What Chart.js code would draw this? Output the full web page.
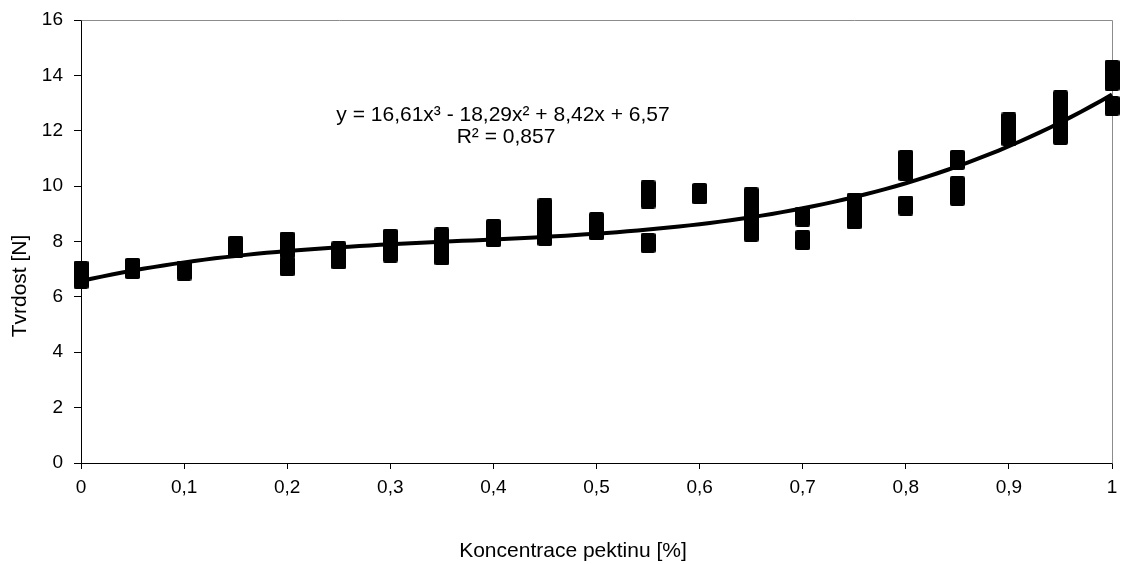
<!DOCTYPE html>
<html>
<head>
<meta charset="utf-8">
<script src="https://cdn.jsdelivr.net/npm/chart.js@4"></script>
<style>
  html, body { margin: 0; padding: 0; background: #fff; }
  canvas { display: block; }
</style>
</head>
<body>
<canvas id="c" width="1122" height="564"></canvas>
<script>
// Pectin concentration [%] for each group of measurements
const koncentrace = [0, 0.05, 0.1, 0.15, 0.2, 0.25, 0.3, 0.35, 0.4, 0.45, 0.5,
                     0.55, 0.6, 0.65, 0.7, 0.75, 0.8, 0.85, 0.9, 0.95, 1];

// Measured hardness [N], replicates per concentration
const tvrdost = [
  [6.65, 6.8, 6.95],
  [7.0, 7.05],
  [6.95],
  [7.75, 7.85],
  [7.1, 7.75, 8.0],
  [7.35, 7.65],
  [7.6, 7.9, 8.1],
  [7.5, 7.8, 8.15],
  [8.15, 8.45],
  [8.2, 8.6, 9.2],
  [8.4, 8.7],
  [7.95, 9.55, 9.85],
  [9.7, 9.75],
  [8.35, 8.8, 9.2, 9.6],
  [8.05, 8.9],
  [8.8, 9.1, 9.4],
  [9.3, 10.55, 10.95],
  [9.65, 10.0, 10.95],
  [11.8, 12.0, 12.3],
  [11.85, 12.3, 12.7, 13.1],
  [12.9, 13.8, 14.2]
];

// Cubic trend line coefficients: c0 + c1*x + c2*x^2 + c3*x^3
const trendCoef = [6.57, 8.42, -18.29, 16.61];
const r2 = 0.857;

// Axis tick labels
const xTickLabels = ['0', '0,1', '0,2', '0,3', '0,4', '0,5', '0,6', '0,7', '0,8', '0,9', '1'];
const yTickLabels = ['0', '2', '4', '6', '8', '10', '12', '14', '16'];

const xTitle = 'Koncentrace pektinu [%]';
const yTitle = 'Tvrdost [N]';

// ---- derived data ----
const points = [];
koncentrace.forEach((x, i) => tvrdost[i].forEach(y => points.push({ x, y })));

const trendX = [];
for (let i = 0; i <= 100; i++) trendX.push(i / 100);
const trendPoints = trendX.map(x => ({
  x,
  y: trendCoef.reduce((s, c, k) => s + c * Math.pow(x, k), 0)
}));

const fmt = v => Math.abs(v).toFixed(2).replace('.', ',');
const sign = v => (v < 0 ? ' - ' : ' + ');
const eqText = 'y = ' + fmt(trendCoef[3]) + 'x\u00B3' +
  sign(trendCoef[2]) + fmt(trendCoef[2]) + 'x\u00B2' +
  sign(trendCoef[1]) + fmt(trendCoef[1]) + 'x' +
  sign(trendCoef[0]) + fmt(trendCoef[0]);
const r2Text = 'R\u00B2 = ' + r2.toFixed(3).replace('.', ',');

// Marker: slightly rounded black rectangle
function markerImage() {
  const c = document.createElement('canvas');
  c.width = 15; c.height = 20;
  const g = c.getContext('2d');
  g.fillStyle = '#000';
  g.beginPath();
  if (g.roundRect) g.roundRect(0, 0, 15, 20, 2); else g.rect(0, 0, 15, 20);
  g.fill();
  return c;
}

const FONT = "'Liberation Sans', Arial, sans-serif";

// Gray frame on top/right + titles and equation text
const decorations = {
  id: 'decorations',
  beforeDatasetsDraw(chart) {
    const { ctx, chartArea: a } = chart;
    ctx.save();
    ctx.strokeStyle = '#8c8c8c';
    ctx.lineWidth = 1;
    ctx.beginPath();
    ctx.moveTo(Math.round(a.left) + 0.5, Math.round(a.top) + 0.5);
    ctx.lineTo(Math.round(a.right) + 0.5, Math.round(a.top) + 0.5);
    ctx.lineTo(Math.round(a.right) + 0.5, Math.round(a.bottom) + 0.5);
    ctx.stroke();
    ctx.restore();
  },
  afterDraw(chart) {
    const { ctx } = chart;
    ctx.save();
    ctx.fillStyle = '#000';
    ctx.textAlign = 'center';
    ctx.textBaseline = 'middle';
    ctx.font = '21px ' + FONT;
    ctx.fillText(xTitle, 573, 551);
    ctx.save();
    ctx.translate(20, 286);
    ctx.rotate(-Math.PI / 2);
    ctx.fillText(yTitle, 0, 0);
    ctx.restore();
    ctx.font = '21px ' + FONT;
    ctx.fillText(eqText, 503, 115);
    ctx.fillText(r2Text, 506, 137);
    ctx.restore();
  }
};

new Chart(document.getElementById('c'), {
  type: 'scatter',
  data: {
    datasets: [
      {
        type: 'line',
        data: trendPoints,
        borderColor: '#000',
        borderWidth: 4,
        pointRadius: 0,
        tension: 0,
        fill: false,
        clip: false,
        order: 0
      },
      {
        data: points,
        pointStyle: markerImage(),
        pointRadius: 8,
        backgroundColor: '#000',
        borderColor: '#000',
        clip: false,
        order: 1
      }
    ]
  },
  plugins: [decorations],
  options: {
    responsive: false,
    animation: false,
    layout: { padding: { top: 20, right: 10, left: 0, bottom: 0 } },
    plugins: { legend: { display: false }, tooltip: { enabled: false } },
    scales: {
      x: {
        type: 'linear',
        min: 0, max: 1,
        afterFit: s => { s.height = 101; s.paddingLeft = 0; s.paddingRight = 0; },
        afterBuildTicks: s => { s.ticks = xTickLabels.map((_, i) => ({ value: i / 10 })); },
        ticks: {
          callback: (v, i) => xTickLabels[i],
          color: '#000',
          font: { family: FONT, size: 19 },
          padding: 7,
          maxRotation: 0,
          autoSkip: false
        },
        grid: { drawOnChartArea: false, drawTicks: true, tickLength: 6, color: '#000' },
        border: { display: true, color: '#000', width: 1 }
      },
      y: {
        min: 0, max: 16,
        afterFit: s => { s.width = 81; s.paddingTop = 0; s.paddingBottom = 0; },
        afterBuildTicks: s => { s.ticks = yTickLabels.map((_, i) => ({ value: i * 2 })); },
        ticks: {
          callback: (v, i) => yTickLabels[i],
          color: '#000',
          font: { family: FONT, size: 19 },
          padding: 11
        },
        grid: { drawOnChartArea: false, drawTicks: true, tickLength: 7, color: '#000' },
        border: { display: true, color: '#000', width: 1 }
      }
    }
  }
});
</script>
</body>
</html>
